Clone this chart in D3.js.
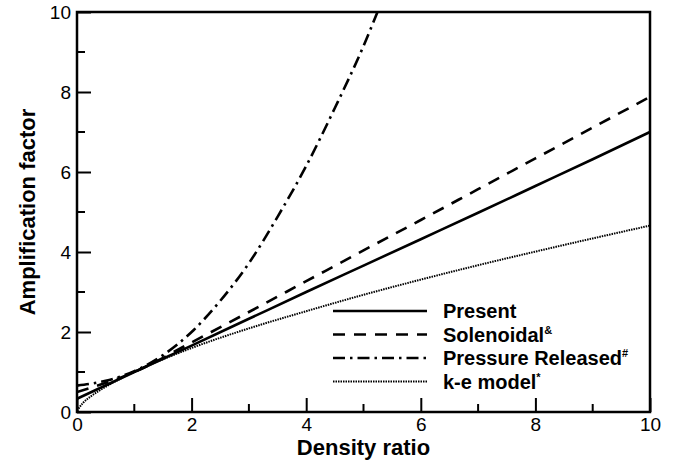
<!DOCTYPE html>
<html>
<head>
<meta charset="utf-8">
<script src="https://cdn.jsdelivr.net/npm/d3@7"></script>
<style>
  body { margin: 0; background: #fff; }
  text { font-family: "Liberation Sans", Arial, sans-serif; }
</style>
</head>
<body>
<script>
// values
const xGrid = [0, 1, 2, 3, 4, 5, 6, 7, 8, 9, 10];
const present = [0.33, 1.0, 1.66, 2.33, 3.0, 3.66, 4.32, 4.98, 5.65, 6.32, 7.0];
const solenoidal = [0.5, 1.0, 1.74, 2.5, 3.27, 4.04, 4.8, 5.57, 6.34, 7.11, 7.88];

const xPressure = [0, 0.5, 1, 1.5, 2, 2.5, 3, 3.5, 4, 4.5, 5, 5.3];
const pressure = [0.66, 0.78, 1.02, 1.42, 2.0, 2.78, 3.72, 4.88, 6.15, 7.6, 9.15, 10.2];

const xKe = [0, 0.1, 0.25, 0.5, 1, 2, 3, 4, 5, 6, 7, 8, 9, 10];
const kE = [0.03, 0.22, 0.4, 0.63, 1.0, 1.6, 2.09, 2.52, 2.93, 3.31, 3.67, 4.01, 4.34, 4.66];

const xTicks = [0, 2, 4, 6, 8, 10];
const yTicks = [0, 2, 4, 6, 8, 10];
const minorTicks = [1, 3, 5, 7, 9];

const legendNames = ["Present", "Solenoidal", "Pressure Released", "k-e model"];
const legendMarks = ["", "&", "#", "*"];

const width = 684, height = 465;
const margin = {top: 12, right: 34, bottom: 54, left: 77};

const svg = d3.select("body").append("svg")
    .attr("width", width)
    .attr("height", height);

const x = d3.scaleLinear().domain([0, 10]).range([margin.left, width - margin.right]);
const y = d3.scaleLinear().domain([0, 10]).range([height - margin.bottom + 1, margin.top]);

const styles = [
  {w: 2.6, dash: null},
  {w: 2.6, dash: "12,9"},
  {w: 2.6, dash: "12,5,2.5,5"},
  {w: 2, dash: "1.5,1"}
];

svg.append("clipPath").attr("id", "clip")
  .append("rect")
    .attr("x", x(0)).attr("y", y(10))
    .attr("width", x(10) - x(0)).attr("height", y(0) - y(10));

const line = d3.line()
    .x(d => x(d[0]))
    .y(d => y(d[1]))
    .curve(d3.curveMonotoneX);

const series = [
  d3.zip(xGrid, present),
  d3.zip(xGrid, solenoidal),
  d3.zip(xPressure, pressure),
  d3.zip(xKe, kE)
];

const plot = svg.append("g").attr("clip-path", "url(#clip)");
series.forEach((s, i) => {
  plot.append("path")
      .attr("d", line(s))
      .attr("fill", "none")
      .attr("stroke", "#000")
      .attr("stroke-width", styles[i].w)
      .attr("stroke-dasharray", styles[i].dash);
});

// axes: ticks pointing inward
const xAxis = d3.axisBottom(x).tickValues(xTicks).tickSizeInner(-14).tickSizeOuter(0).tickPadding(6);
const yAxis = d3.axisLeft(y).tickValues(yTicks).tickSizeInner(-14).tickSizeOuter(0).tickPadding(6);

const gx = svg.append("g").attr("transform", `translate(0,${y(0)})`).call(xAxis);
const gy = svg.append("g").attr("transform", `translate(${x(0)},0)`).call(yAxis);

gx.append("g").selectAll("line").data(minorTicks).join("line")
    .attr("x1", d => x(d)).attr("x2", d => x(d))
    .attr("y1", 0).attr("y2", -8);
gy.append("g").selectAll("line").data(minorTicks).join("line")
    .attr("y1", d => y(d)).attr("y2", d => y(d))
    .attr("x1", 0).attr("x2", 8);

[gx, gy].forEach(g => {
  g.select(".domain").remove();
  g.selectAll("line").attr("stroke", "#000").attr("stroke-width", 2);
  g.selectAll("text")
      .attr("font-family", "Liberation Sans, Arial, sans-serif")
      .attr("font-size", 19)
      .attr("fill", "#000");
});

// frame
svg.append("rect")
    .attr("x", x(0)).attr("y", y(10))
    .attr("width", x(10) - x(0)).attr("height", y(0) - y(10))
    .attr("fill", "none")
    .attr("stroke", "#000")
    .attr("stroke-width", 2.5);

// axis titles
svg.append("text")
    .attr("x", (x(0) + x(10)) / 2)
    .attr("y", 455)
    .attr("text-anchor", "middle")
    .attr("font-size", 22)
    .attr("font-weight", "bold")
    .text("Density ratio");

svg.append("text")
    .attr("transform", `translate(35,${(y(0) + y(10)) / 2}) rotate(-90)`)
    .attr("text-anchor", "middle")
    .attr("font-size", 22)
    .attr("font-weight", "bold")
    .text("Amplification factor");

// legend
const legend = svg.append("g").attr("transform", "translate(333,311)");
legendNames.forEach((name, i) => {
  const row = legend.append("g").attr("transform", `translate(0,${i * 23.5})`);
  row.append("line")
      .attr("x1", 0).attr("x2", 94)
      .attr("stroke", "#000")
      .attr("stroke-width", styles[i].w)
      .attr("stroke-dasharray", styles[i].dash);
  const t = row.append("text")
      .attr("x", 110).attr("y", 7)
      .attr("font-size", 20)
      .attr("font-weight", "bold")
      .text(name);
  if (legendMarks[i]) {
    t.append("tspan")
        .attr("dy", -8)
        .attr("font-size", 11)
        .text(legendMarks[i]);
  }
});
</script>
</body>
</html>
